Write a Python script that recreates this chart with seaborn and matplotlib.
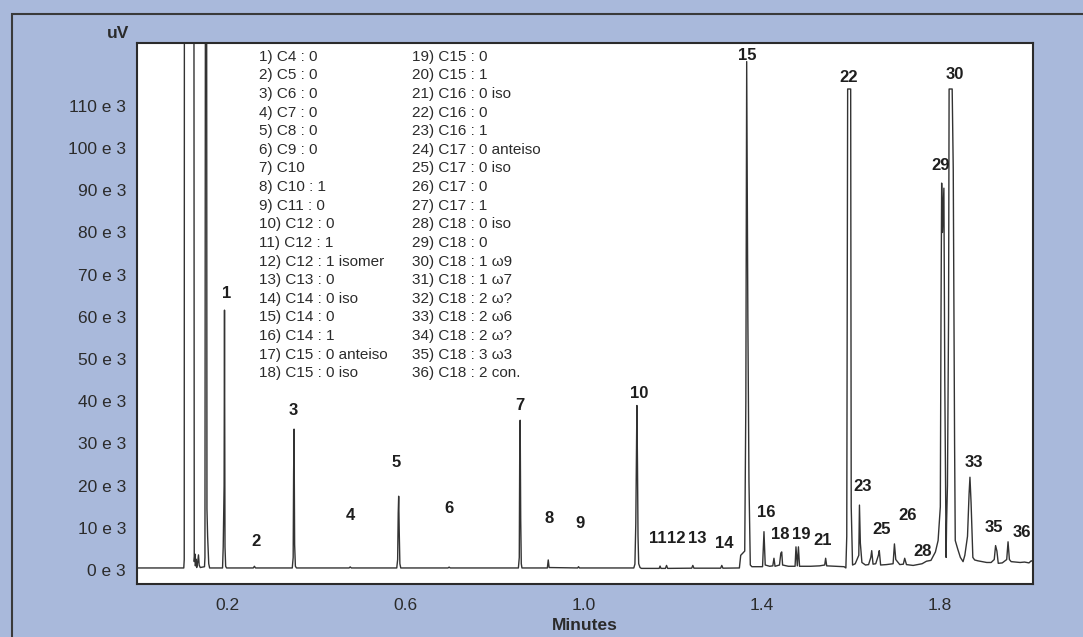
import numpy as np
import pandas as pd
import matplotlib
matplotlib.use("Agg")
import matplotlib.pyplot as plt
from matplotlib import font_manager as fm
from matplotlib.patches import Rectangle
import seaborn as sns

# ---------------- data ----------------
# trace vertices: retention time (min) and detector signal (uV)
time_min = [
    0.000, 0.1030, 0.1040, 0.1045, 0.1255, 0.1265, 0.1280, 0.1290, 0.1305, 0.1320,
    0.1340, 0.1360, 0.1375, 0.1400, 0.1495, 0.1505, 0.1520, 0.1540, 0.1550, 0.1565,
    0.1590, 0.1610, 0.1900, 0.1915, 0.1935, 0.1944, 0.1955, 0.1970, 0.1990, 0.2590,
    0.2615, 0.2640, 0.3465, 0.3485, 0.3495, 0.3505, 0.3518, 0.3535, 0.3560, 0.4740,
    0.4765, 0.4790, 0.5810, 0.5830, 0.5843, 0.5853, 0.5865, 0.5880, 0.5900, 0.6960,
    0.6985, 0.7010, 0.8540, 0.8560, 0.8570, 0.8580, 0.8592, 0.8605, 0.8620, 0.9190,
    0.9210, 0.9230, 0.9870, 0.9890, 0.9910, 1.1130, 1.1155, 1.1175, 1.1190, 1.1200,
    1.1213, 1.1225, 1.1240, 1.1270, 1.1300, 1.1700, 1.1720, 1.1740, 1.1840, 1.1865,
    1.1890, 1.2430, 1.2455, 1.2480, 1.3080, 1.3105, 1.3130, 1.3500, 1.3530, 1.3620,
    1.3645, 1.3664, 1.3690, 1.3715, 1.3745, 1.3780, 1.4020, 1.4052, 1.4080, 1.4180,
    1.4250, 1.4276, 1.4300, 1.4400, 1.4430, 1.4450, 1.4470, 1.4600, 1.4750, 1.4770,
    1.4800, 1.4825, 1.4850, 1.5100, 1.5300, 1.5415, 1.5436, 1.5460, 1.5850, 1.5890,
    1.5910, 1.5930, 1.5998, 1.6010, 1.6040, 1.6100, 1.6180, 1.6195, 1.6215, 1.6250,
    1.6330, 1.6400, 1.6450, 1.6470, 1.6500, 1.6560, 1.6620, 1.6640, 1.6670, 1.6800,
    1.6950, 1.6980, 1.7010, 1.7100, 1.7180, 1.7210, 1.7250, 1.7400, 1.7600, 1.7700,
    1.7800, 1.7900, 1.7960, 1.8010, 1.8025, 1.8040, 1.8058, 1.8090, 1.8110, 1.8140,
    1.8150, 1.8170, 1.8195, 1.8207, 1.8276, 1.8300, 1.8330, 1.8345, 1.8400, 1.8460,
    1.8520, 1.8560, 1.8620, 1.8655, 1.8675, 1.8700, 1.8740, 1.8780, 1.8850, 1.8950,
    1.9050, 1.9150, 1.9220, 1.9250, 1.9280, 1.9310, 1.9400, 1.9500, 1.9530, 1.9560,
    1.9600, 1.9700, 1.9800, 1.9900, 2.0000, 2.0050, 2.0090,
]
signal_uv = [
    500, 500, 2500, 200000, 200000, 2000, 3800, 1000, 2600, 600,
    1800, 3600, 1200, 600, 800, 3000, 200000, 200000, 14500, 8000,
    1500, 500, 500, 5500, 20000, 61600, 5500, 900, 500, 500,
    900, 500, 500, 3000, 23000, 33400, 6000, 900, 500, 500,
    750, 500, 500, 2500, 13500, 17500, 9500, 1500, 500, 500,
    700, 500, 500, 3000, 28000, 35500, 12000, 1500, 500, 500,
    2400, 600, 500, 800, 500, 500, 1400, 11000, 28000, 39000,
    25000, 8000, 1500, 600, 400, 400, 950, 400, 400, 1100,
    400, 450, 1100, 450, 450, 1100, 450, 500, 3500, 4500,
    40000, 120500, 60000, 21000, 1200, 800, 800, 9100, 1200, 900,
    1000, 2800, 900, 1200, 4000, 4300, 1200, 900, 900, 5500,
    1000, 5500, 900, 900, 1000, 1200, 2800, 1000, 800, 500,
    8000, 114000, 114000, 15000, 1200, 1500, 3500, 15400, 6400, 1800,
    1200, 1300, 3000, 4600, 1400, 1500, 3500, 4600, 1200, 1300,
    1500, 6200, 2500, 1300, 1400, 2800, 1300, 1100, 1500, 2100,
    2300, 4300, 7000, 15000, 60000, 91700, 80000, 90500, 45000, 3000,
    11000, 20000, 60000, 114000, 114000, 95000, 30000, 7000, 5000, 3000,
    2000, 3500, 8000, 18000, 22000, 16000, 3000, 2400, 2200, 2000,
    1800, 1800, 2500, 5800, 4500, 1600, 1700, 2500, 6700, 2500,
    2000, 1900, 1800, 1900, 1700, 2200, 2000,
]

# peak labels shown on the chart
peak_ids = ["1", "2", "3", "4", "5", "6", "7", "8", "9", "10", "11", "12", "13", "14",
            "15", "16", "18", "19", "21", "22", "23", "25", "26", "28", "29", "30",
            "33", "35", "36"]
label_t = [0.1993, 0.2644, 0.3488, 0.476, 0.579, 0.698, 0.858, 0.923, 0.992, 1.1246,
           1.166, 1.209, 1.256, 1.3154, 1.3685, 1.4096, 1.4420, 1.4890, 1.5375, 1.5944,
           1.6273, 1.670, 1.7283, 1.762, 1.8023, 1.8338, 1.8764, 1.9213, 1.9841]
label_uv = [65600, 6700, 37900, 13000, 25600, 14700, 38900, 12300, 11000, 41900,
            7600, 7600, 7600, 6200, 121900, 13700, 8500, 8500, 6900, 116800,
            19900, 9700, 13000, 4300, 95800, 117500, 25600, 10000, 9000]

# compound key
compounds_col1 = ["1) C4 : 0", "2) C5 : 0", "3) C6 : 0", "4) C7 : 0", "5) C8 : 0",
                  "6) C9 : 0", "7) C10", "8) C10 : 1", "9) C11 : 0", "10) C12 : 0",
                  "11) C12 : 1", "12) C12 : 1 isomer", "13) C13 : 0", "14) C14 : 0 iso",
                  "15) C14 : 0", "16) C14 : 1", "17) C15 : 0 anteiso", "18) C15 : 0 iso"]
compounds_col2 = ["19) C15 : 0", "20) C15 : 1", "21) C16 : 0 iso", "22) C16 : 0",
                  "23) C16 : 1", "24) C17 : 0 anteiso", "25) C17 : 0 iso", "26) C17 : 0",
                  "27) C17 : 1", "28) C18 : 0 iso", "29) C18 : 0", "30) C18 : 1 \u03c99",
                  "31) C18 : 1 \u03c97", "32) C18 : 2 \u03c9?", "33) C18 : 2 \u03c96",
                  "34) C18 : 2 \u03c9?", "35) C18 : 3 \u03c93", "36) C18 : 2 con."]

y_ticks = [0, 10000, 20000, 30000, 40000, 50000, 60000, 70000, 80000, 90000, 100000, 110000]
y_tick_labels = ["%d e 3" % (v // 1000) for v in y_ticks]
x_ticks = [0.2, 0.6, 1.0, 1.4, 1.8]
x_tick_labels = ["0.2", "0.6", "1.0", "1.4", "1.8"]

# ---------------- style ----------------
sns.set_style("white")


def has_font(name):
    try:
        fm.findfont(fm.FontProperties(family=name), fallback_to_default=False)
        return True
    except Exception:
        return False


main_font = "Liberation Sans Narrow" if has_font("Liberation Sans Narrow") else "Liberation Sans"
plt.rcParams["font.family"] = [main_font, "DejaVu Sans"]

BG = "#A9B9DB"
INK = "#2b2b2b"
W, H = 1083, 637

fig = plt.figure(figsize=(W / 100, H / 100), dpi=100, facecolor=BG)
ax = fig.add_axes([137 / W, 1 - 584 / H, (1033 - 137) / W, (584 - 43) / H])
ax.set_facecolor("white")

df = pd.DataFrame({"t": time_min, "uv": signal_uv})
sns.lineplot(data=df, x="t", y="uv", sort=False, estimator=None, ax=ax,
             color="#333333", linewidth=1.0)

ax.set_xlim(-0.002, 2.009)
ax.set_ylim(-3300, 124900)
ax.set_xticks(x_ticks)
ax.set_xticklabels(x_tick_labels)
ax.set_yticks(y_ticks)
ax.set_yticklabels(y_tick_labels)
ax.set_xlabel("")
ax.set_ylabel("")
ax.tick_params(axis="both", which="major", direction="out", color=INK, labelcolor=INK,
               labelsize=12.5, width=1.0)
ax.tick_params(axis="y", length=6, pad=2)
ax.tick_params(axis="x", length=7, pad=3)
for s in ax.spines.values():
    s.set_color(INK)
    s.set_linewidth(1.5)
    s.set_visible(True)

# peak numbers
for pid, tx, ty in zip(peak_ids, label_t, label_uv):
    ax.text(tx, ty, pid, ha="center", va="center", fontsize=12,
            fontweight="bold", color="#1e1e1e")

# compound key (two columns)
row0, dy = 56.7, 18.62
for i, name in enumerate(compounds_col1):
    fig.text(259 / W, 1 - (row0 + i * dy) / H, name, ha="left", va="center",
             fontsize=11, color=INK)
for i, name in enumerate(compounds_col2):
    fig.text(411.7 / W, 1 - (row0 + i * dy) / H, name, ha="left", va="center",
             fontsize=11, color=INK)

# axis titles
fig.text(118 / W, 1 - 33 / H, "uV", ha="center", va="center", fontsize=12.5,
         fontweight="bold", color=INK)
fig.text(585 / W, 1 - 625 / H, "Minutes", ha="center", va="center", fontsize=12.5,
         fontweight="bold", color=INK)

# outer frame (left and top edges visible)
fig.add_artist(Rectangle((12 / W, -0.2), 1.5, 1.2 - 14 / H, transform=fig.transFigure,
                         fill=False, edgecolor="#3a3a3a", linewidth=1.5))

fig.savefig("out.png", dpi=100, facecolor=BG)
